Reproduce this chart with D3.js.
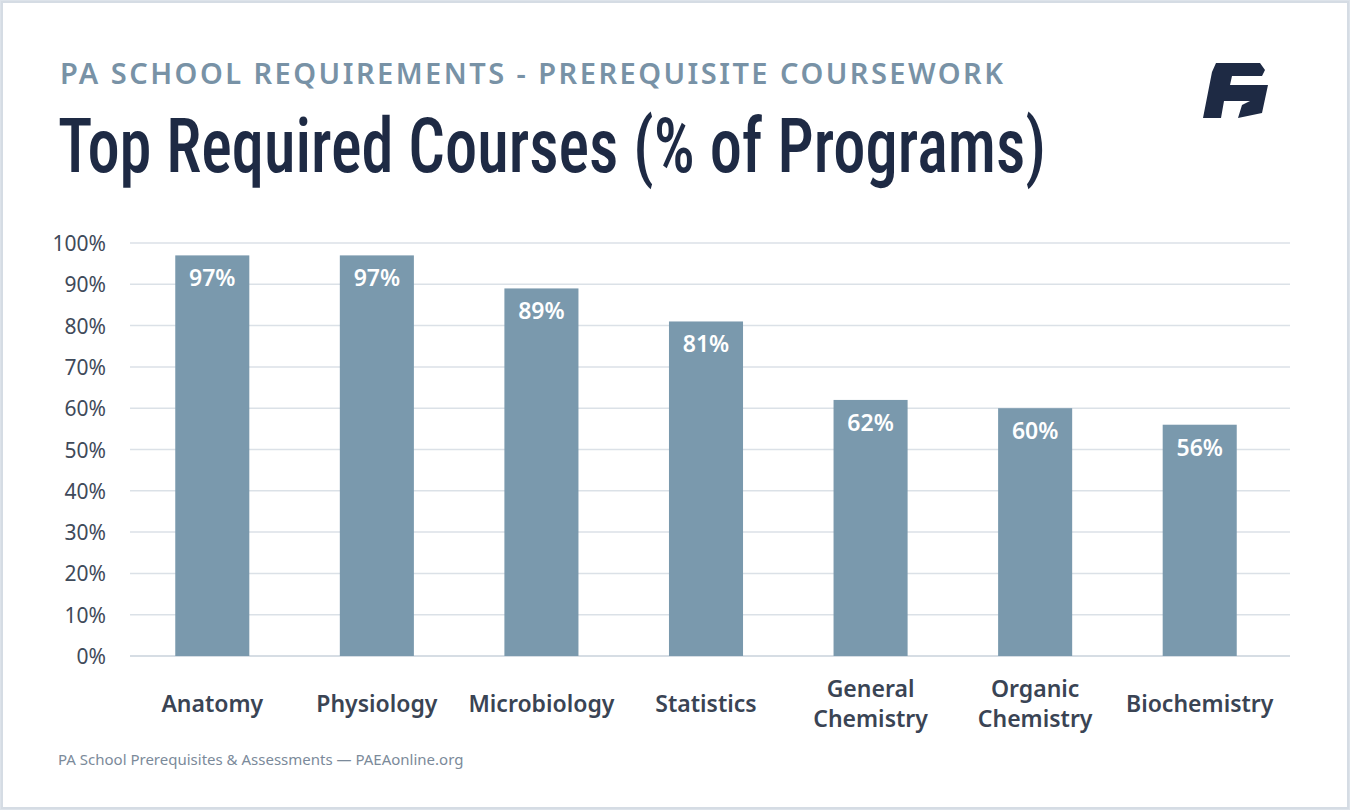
<!DOCTYPE html>
<html><head><meta charset="utf-8">
<script src="https://cdn.jsdelivr.net/npm/d3@7"></script>
<style>body{margin:0;background:#dde3ea;}svg{display:block}</style>
</head><body><svg id="c" width="1350" height="810"></svg>
<script>
const categories = ["Anatomy","Physiology","Microbiology","Statistics","General\nChemistry","Organic\nChemistry","Biochemistry"];
const values = [97,97,89,81,62,60,56];
const yTicks = [0,10,20,30,40,50,60,70,80,90,100];

const svg = d3.select("#c");
svg.append("rect").attr("x",2).attr("y",2).attr("width",1346).attr("height",806).attr("fill","#fff").attr("stroke","#d5dce4").attr("stroke-width",2);

svg.append("text").attr("x",60).attr("y",84).text("PA SCHOOL REQUIREMENTS - PREREQUISITE COURSEWORK")
 .attr("font-family","Noto Sans").attr("font-weight",600).attr("font-size",29).attr("fill","#7892a6")
 .attr("textLength",943).attr("lengthAdjust","spacing");
svg.append("text").attr("x",58).attr("y",172).text("Top Required Courses (% of Programs)")
 .attr("font-family","Liberation Sans Narrow, Roboto Condensed, sans-serif").attr("font-weight",500).attr("font-size",76).attr("fill","#1e2a44")
 .attr("textLength",988).attr("lengthAdjust","spacingAndGlyphs");

svg.append("path").attr("d","M1216,63 L1260,63 L1265,70 L1262,76 L1232,76 L1230,85 L1268,85 L1262,113 L1238,118 L1242,105 L1250,101 L1224,101 L1221,118 L1203,118 L1212,72 Z").attr("fill","#1e2a44");

const x = d3.scaleBand().domain(categories).range([130,1282]).paddingInner(0.55).paddingOuter(0.275);
const y = d3.scaleLinear().domain([0,100]).range([656,243]);

const g = svg.append("g");
g.selectAll("line.grid").data(yTicks).join("line").attr("x1",130).attr("x2",1290)
 .attr("y1",d=>y(d)).attr("y2",d=>y(d)).attr("stroke",(d)=>d===0?"#c9d2db":"#dbe1e7").attr("stroke-width",1.5);
g.selectAll("text.yt").data(yTicks).join("text").attr("x",106).attr("y",d=>y(d)+8).attr("text-anchor","end")
 .text(d=>d+"%").attr("font-family","Noto Sans").attr("font-size",21).attr("fill","#3f4a5a");

g.selectAll("rect.bar").data(values).join("rect").attr("x",(d,i)=>x(categories[i])).attr("width",x.bandwidth())
 .attr("y",d=>y(d)).attr("height",d=>y(0)-y(d)).attr("fill","#7a99ad");
g.selectAll("text.val").data(values).join("text").attr("x",(d,i)=>x(categories[i])+x.bandwidth()/2).attr("y",d=>y(d)+31)
 .attr("text-anchor","middle").text(d=>d+"%").attr("font-family","Noto Sans").attr("font-weight",600).attr("font-size",23).attr("fill","#fff");

categories.forEach((c,i)=>{
  const lines=c.split("\n");
  const t=svg.append("text").attr("text-anchor","middle").attr("font-family","Noto Sans").attr("font-weight",600).attr("font-size",23).attr("fill","#3a4454");
  const cx=x(c)+x.bandwidth()/2;
  const y0= lines.length===1?712:697;
  lines.forEach((l,j)=>t.append("tspan").attr("x",cx).attr("y",y0+j*30).text(l));
});

svg.append("text").attr("x",58).attr("y",765).text("PA School Prerequisites & Assessments — PAEAonline.org")
 .attr("font-family","Noto Sans").attr("font-size",15).attr("fill","#7b8a9a");
</script></body></html>
